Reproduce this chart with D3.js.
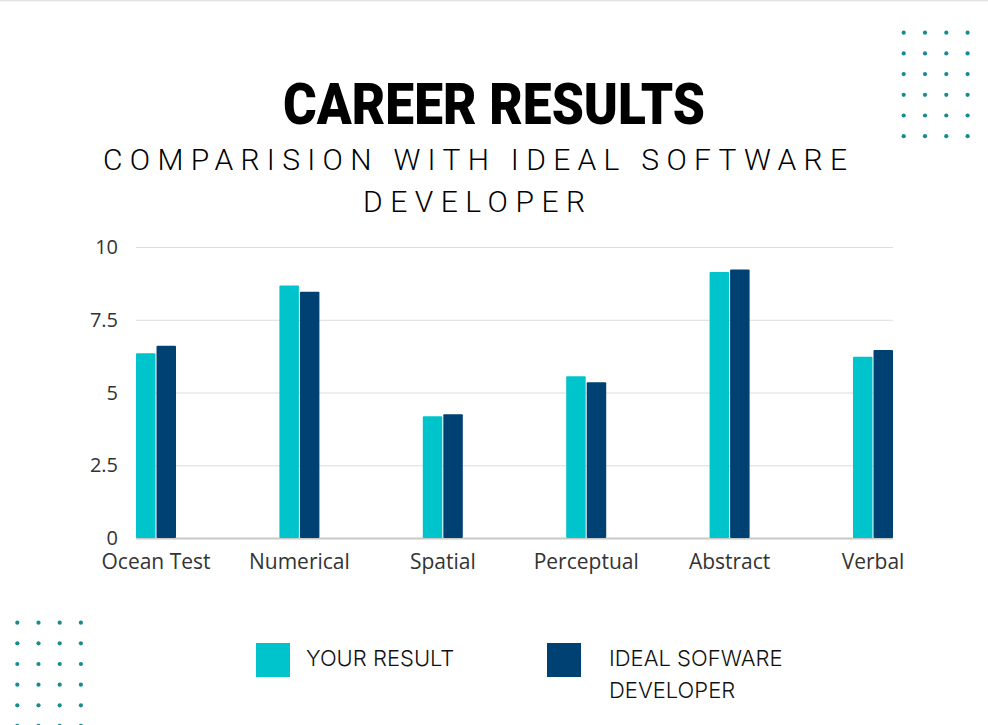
<!DOCTYPE html>
<html>
<head>
<meta charset="utf-8">
<script src="https://cdn.jsdelivr.net/npm/d3@7"></script>
<style>
  html, body { margin: 0; padding: 0; background: #ffffff; }
  svg { display: block; }
</style>
</head>
<body>
<svg id="chart" width="988" height="725"></svg>
<script>
const categories = ["Ocean Test", "Numerical", "Spatial", "Perceptual", "Abstract", "Verbal"];
const seriesNames = ["YOUR RESULT", "IDEAL SOFWARE DEVELOPER"];
const yourResult = [6.35, 8.68, 4.18, 5.56, 9.14, 6.23];
const idealDeveloper = [6.61, 8.46, 4.25, 5.35, 9.23, 6.46];
const yTicks = [0, 2.5, 5, 7.5, 10];
const yTickLabels = ["0", "2.5", "5", "7.5", "10"];

const colors = ["#00c4cc", "#004173"];
const W = 988, H = 725;
const svg = d3.select("#chart");

// top border line
svg.append("line").attr("x1", 0).attr("x2", W).attr("y1", 0.5).attr("y2", 0.5)
  .attr("stroke", "#e2e2e2").attr("stroke-width", 1.5);

// decorative dot grids
function dotGrid(x0, y0, cols, rows, dx, dy) {
  const pts = d3.cross(d3.range(cols), d3.range(rows));
  svg.append("g").selectAll("circle").data(pts).join("circle")
    .attr("cx", d => x0 + d[0] * dx)
    .attr("cy", d => y0 + d[1] * dy)
    .attr("r", 2.1)
    .attr("fill", "#168c90");
}
dotGrid(903.7, 32.7, 4, 6, 21.3, 20.7);
dotGrid(17.3, 622.7, 4, 6, 21.2, 20.65);

// titles
svg.append("text")
  .attr("x", 494).attr("y", 124)
  .attr("text-anchor", "middle")
  .attr("font-family", "Roboto, 'DejaVu Sans', sans-serif")
  .attr("font-weight", 900)
  .attr("font-size", 58)
  .attr("textLength", 422).attr("lengthAdjust", "spacingAndGlyphs")
  .attr("fill", "#000")
  .text("CAREER RESULTS");

const sub = [
  { t: "COMPARISION WITH IDEAL SOFTWARE", y: 170, len: 744, cx: 475 },
  { t: "DEVELOPER", y: 212, len: 222, cx: 474 }
];
svg.append("g").selectAll("text").data(sub).join("text")
  .attr("x", d => d.cx).attr("y", d => d.y)
  .attr("text-anchor", "middle")
  .attr("font-family", "Roboto, 'Noto Sans', sans-serif")
  .attr("font-weight", 300)
  .attr("font-size", 30)
  .attr("textLength", d => d.len).attr("lengthAdjust", "spacing")
  .attr("fill", "#000")
  .text(d => d.t);

// scales
const x0 = d3.scaleBand().domain(categories).range([136, 893]).paddingInner(0.721).paddingOuter(0);
const x1 = d3.scaleBand().domain(seriesNames).range([0, x0.bandwidth()]).paddingInner(0.05);
const y = d3.scaleLinear().domain([0, 10]).range([538, 247]);

// gridlines
const grid = svg.append("g");
grid.selectAll("line").data(yTicks).join("line")
  .attr("x1", 136).attr("x2", 893)
  .attr("y1", d => y(d) + 0.5).attr("y2", d => y(d) + 0.5)
  .attr("stroke", d => d === 0 ? "#c8c8c8" : "#dcdcdc")
  .attr("stroke-width", d => d === 0 ? 2 : 1);

// y axis labels via d3 axis
const yAxis = d3.axisLeft(y).tickValues(yTicks)
  .tickFormat((d, i) => yTickLabels[i]).tickSize(0).tickPadding(0);
const gy = svg.append("g").attr("transform", "translate(118,0)").call(yAxis);
gy.select(".domain").remove();
gy.selectAll("text")
  .attr("font-family", "'Open Sans', 'Noto Sans', sans-serif")
  .attr("font-size", 20)
  .attr("fill", "#333")
  .attr("dy", "0.33em");

// bars
const data = categories.map((c, i) => ({ cat: c, vals: [yourResult[i], idealDeveloper[i]] }));
const groups = svg.append("g").selectAll("g").data(data).join("g")
  .attr("transform", d => `translate(${x0(d.cat)},0)`);
groups.selectAll("rect").data(d => d.vals.map((v, j) => ({ s: seriesNames[j], v, j })))
  .join("rect")
  .attr("x", d => x1(d.s))
  .attr("y", d => y(d.v))
  .attr("width", x1.bandwidth())
  .attr("height", d => y(0) - y(d.v))
  .attr("rx", 1)
  .attr("fill", d => colors[d.j]);

// x axis labels
const xAxis = d3.axisBottom(x0).tickSize(0).tickPadding(0);
const gx = svg.append("g").attr("transform", "translate(0,569)").call(xAxis);
gx.select(".domain").remove();
gx.selectAll("text")
  .attr("font-family", "'Open Sans', 'Noto Sans', sans-serif")
  .attr("font-size", 21)
  .attr("fill", "#333")
  .attr("dy", 0);

// legend
const legend = [
  { name: seriesNames[0], lines: ["YOUR RESULT"], sx: 256, tx: 306 },
  { name: seriesNames[1], lines: ["IDEAL SOFWARE", "DEVELOPER"], sx: 547, tx: 609 }
];
const lg = svg.append("g").selectAll("g").data(legend).join("g");
lg.append("rect")
  .attr("x", d => d.sx).attr("y", 643)
  .attr("width", 34).attr("height", 34)
  .attr("fill", (d, i) => colors[i]);
lg.each(function (d) {
  const g = d3.select(this);
  d.lines.forEach((ln, k) => {
    g.append("text")
      .attr("x", d.tx).attr("y", 666 + k * 32)
      .attr("font-family", "Inter, Roboto, sans-serif")
      .attr("font-weight", 300)
      .attr("font-size", 22)
      .attr("fill", "#111")
      .text(ln);
  });
});
</script>
</body>
</html>
